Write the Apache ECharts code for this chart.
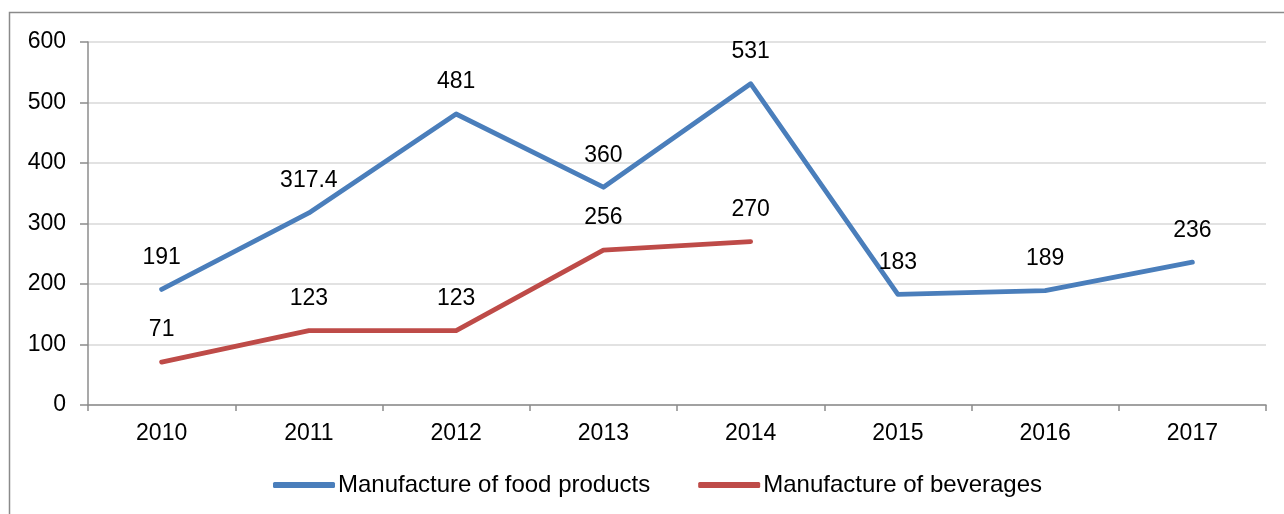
<!DOCTYPE html>
<html>
<head>
<meta charset="utf-8">
<script src="https://cdn.jsdelivr.net/npm/echarts@6/dist/echarts.min.js"></script>
<style>
  html, body { margin: 0; padding: 0; background: #fff; }
  #chart { width: 1284px; height: 514px; }
</style>
</head>
<body>
<div id="chart"></div>
<script>
// Years on the horizontal axis
const years = ['2010', '2011', '2012', '2013', '2014', '2015', '2016', '2017'];

// Food products, all years
const foodProducts = [191, 317.4, 481, 360, 531, 183, 189, 236];

// Beverages, reported up to 2014
const beverages = [71, 123, 123, 256, 270, null, null, null];

const seriesNames = ['Manufacture of food products', 'Manufacture of beverages'];
const seriesColors = ['#4a7ebb', '#be4b48'];

const FONT = '"Liberation Sans", Arial, sans-serif';
const FONT_SIZE = 23;
const AXIS_GREY = '#8c8c8c';

const chart = echarts.init(document.getElementById('chart'), null, { renderer: 'canvas' });

const labelStyle = {
  show: true,
  position: 'top',
  distance: 20,
  color: '#000',
  fontFamily: FONT,
  fontSize: FONT_SIZE
};

function lineSeries(name, data, color) {
  return {
    name: name,
    type: 'line',
    data: data,
    // tiny markers hidden under the stroke, used as label anchors
    symbol: 'circle',
    symbolSize: 1,
    showSymbol: true,
    itemStyle: { color: color },
    color: color,
    lineStyle: { width: 4.8, color: color, cap: 'round', join: 'round' },
    label: labelStyle,
    labelLayout: { hideOverlap: false },
    emphasis: { disabled: true }
  };
}

chart.setOption({
  animation: false,
  backgroundColor: '#fff',
  graphic: [{
    type: 'rect',
    shape: { x: 9.5, y: 12.5, width: 1290, height: 520 },
    style: { fill: 'none', stroke: '#8a8a8a', lineWidth: 1.5 },
    silent: true,
    z: -1
  }],
  grid: { left: 88, right: 18, top: 42, bottom: 109, containLabel: false },
  legend: {
    bottom: 12,
    left: 268,
    icon: 'roundRect',
    itemWidth: 62,
    itemHeight: 6,
    itemGap: 48,
    textStyle: { fontFamily: FONT, fontSize: 24, color: '#000', padding: [0, 0, 0, -2] },
    data: seriesNames.map((n, i) => ({ name: n, itemStyle: { color: seriesColors[i] } }))
  },
  xAxis: {
    type: 'category',
    data: years,
    boundaryGap: true,
    axisLine: { lineStyle: { color: AXIS_GREY, width: 1.5 } },
    axisTick: { show: true, length: 6, alignWithLabel: false, lineStyle: { color: AXIS_GREY, width: 1.5 } },
    axisLabel: { color: '#000', fontFamily: FONT, fontSize: FONT_SIZE, margin: 17 },
    splitLine: { show: false }
  },
  yAxis: {
    type: 'value',
    min: 0,
    max: 600,
    interval: 100,
    axisLine: { show: true, lineStyle: { color: AXIS_GREY, width: 1.5 } },
    axisTick: { show: true, length: 8, lineStyle: { color: AXIS_GREY, width: 1.5 } },
    axisLabel: { color: '#000', fontFamily: FONT, fontSize: FONT_SIZE, margin: 22 },
    splitLine: { show: true, lineStyle: { color: '#d9d9d9', width: 1.5 } }
  },
  series: [
    lineSeries(seriesNames[0], foodProducts, seriesColors[0]),
    lineSeries(seriesNames[1], beverages, seriesColors[1])
  ]
});
</script>
</body>
</html>
